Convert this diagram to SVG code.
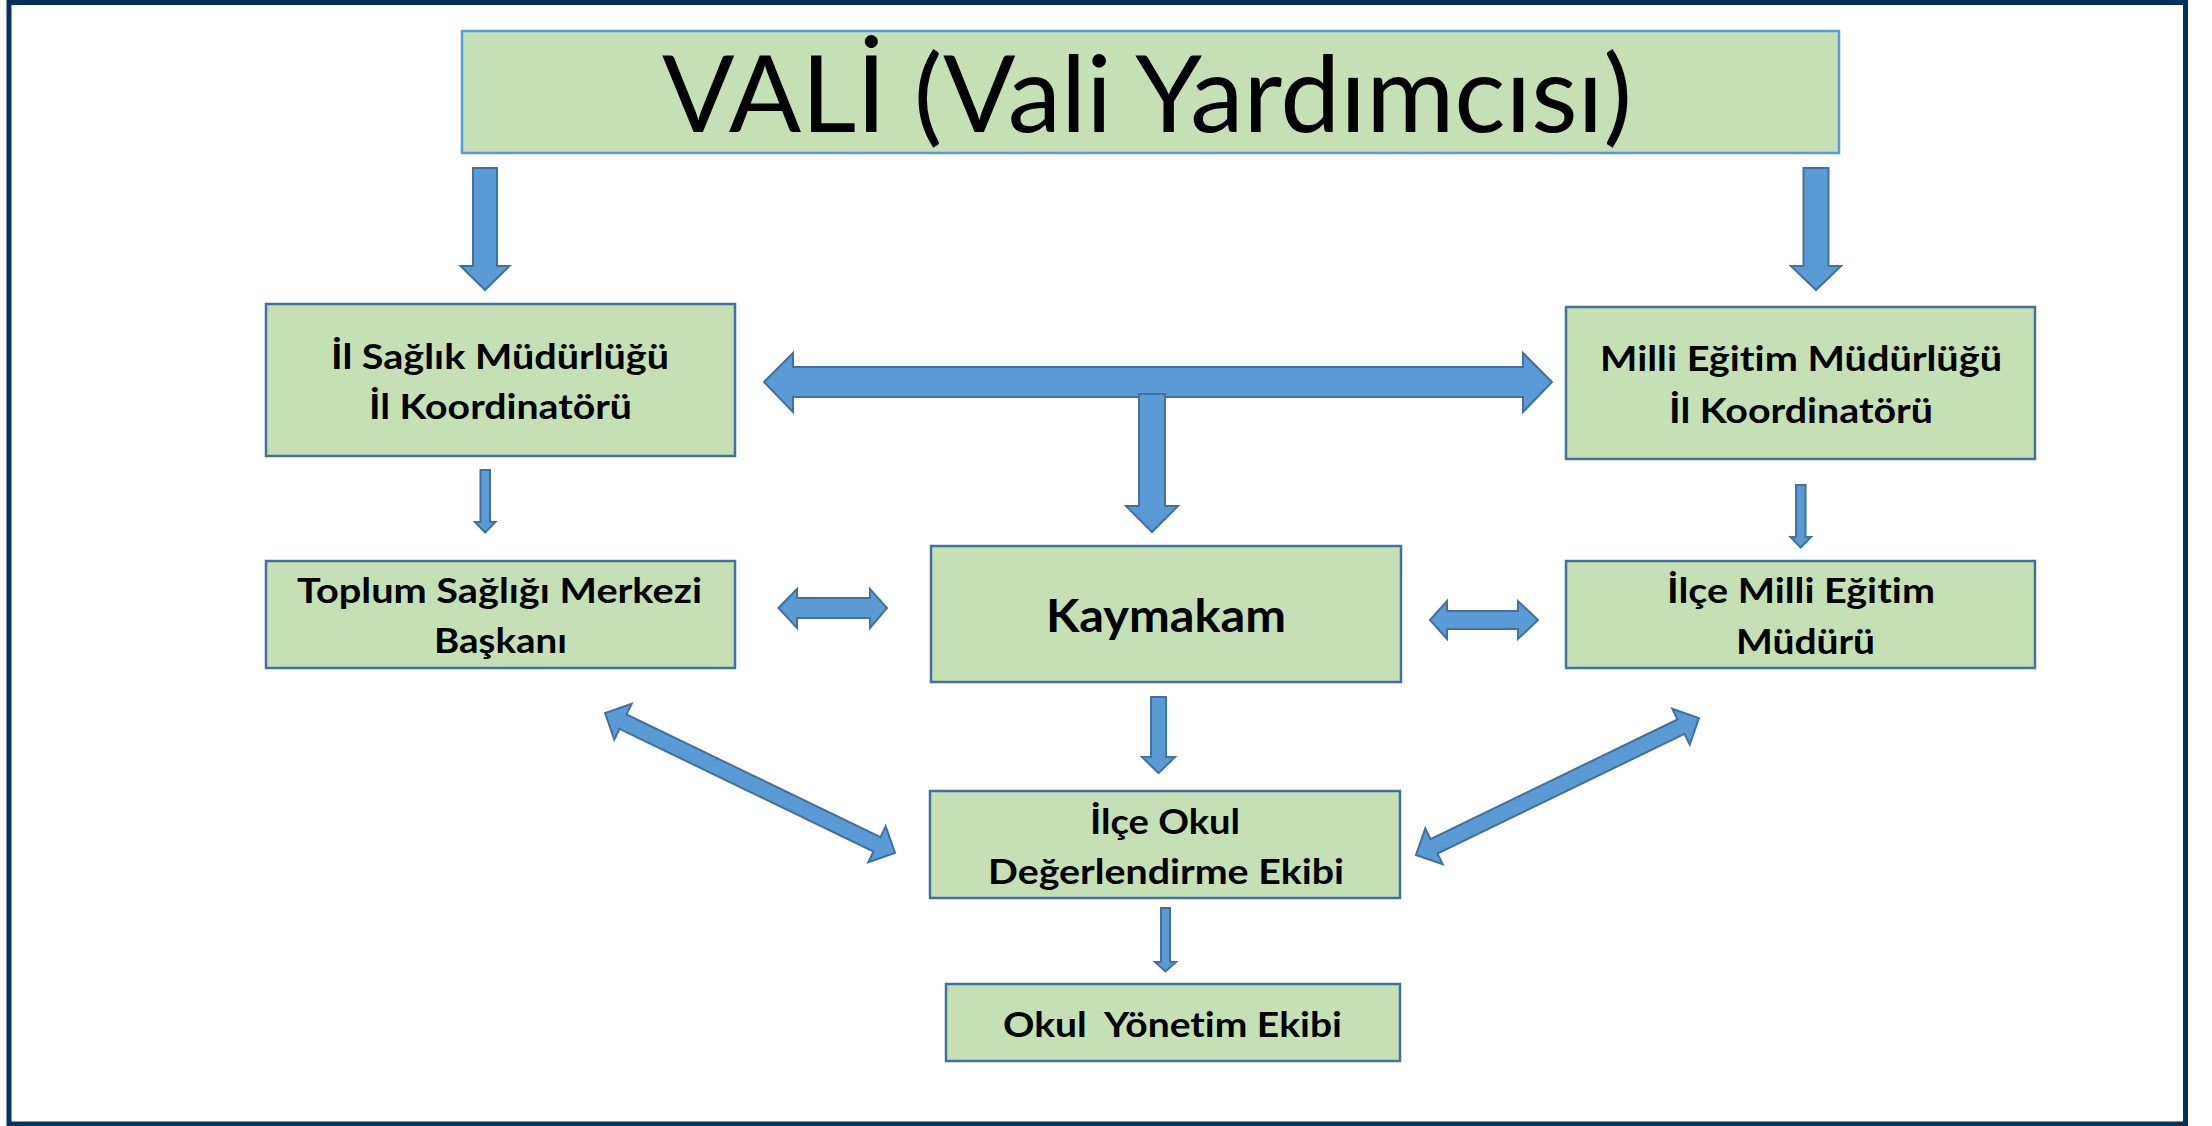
<svg xmlns="http://www.w3.org/2000/svg" width="2212" height="1126" viewBox="0 0 2212 1126">
<style>
.box{fill:#c5e0b4;stroke:#41719c;stroke-width:2.5}
.top{fill:#c5e0b4;stroke:#5b9bd5;stroke-width:2.5}
.arr{fill:#5b9bd5;stroke:#41719c;stroke-width:2;stroke-linejoin:miter}
.t{font-family:Lato,"Open Sans","Liberation Sans",sans-serif;font-weight:bold;font-size:35px;fill:#000;text-anchor:middle;font-variant-ligatures:none}
.big{font-family:Lato,"Open Sans","Liberation Sans",sans-serif;font-weight:normal;font-size:106px;fill:#000;text-anchor:middle;font-variant-ligatures:none}
</style>
<rect x="0" y="0" width="2212" height="1126" fill="#ffffff"/>
<rect x="9" y="2.5" width="2176.5" height="1121.5" fill="#ffffff" stroke="#03325f" stroke-width="5"/>

<g id="vali">
<rect class="top" x="462" y="31" width="1377" height="122"/>
<text class="big" x="1147" y="132" textLength="970" lengthAdjust="spacingAndGlyphs">VALİ (Vali Yardımcısı)</text>
</g>

<g id="il-saglik">
<rect class="box" x="266" y="304" width="469" height="152"/>
<text class="t" x="500" y="369" textLength="338" lengthAdjust="spacingAndGlyphs">İl Sağlık Müdürlüğü</text>
<text class="t" x="500.5" y="419" textLength="263" lengthAdjust="spacingAndGlyphs">İl Koordinatörü</text>
</g>

<g id="milli-egitim">
<rect class="box" x="1566" y="307" width="469" height="152"/>
<text class="t" x="1801" y="371" textLength="402" lengthAdjust="spacingAndGlyphs">Milli Eğitim Müdürlüğü</text>
<text class="t" x="1801" y="423" textLength="264" lengthAdjust="spacingAndGlyphs">İl Koordinatörü</text>
</g>

<g id="toplum-sagligi">
<rect class="box" x="266" y="561" width="469" height="107"/>
<text class="t" x="499.5" y="603" textLength="405" lengthAdjust="spacingAndGlyphs">Toplum Sağlığı Merkezi</text>
<text class="t" x="500.5" y="653" textLength="133" lengthAdjust="spacingAndGlyphs">Başkanı</text>
</g>

<g id="kaymakam">
<rect class="box" x="931" y="546" width="470" height="136"/>
<text class="t" x="1166" y="632" style="font-size:45px" textLength="240" lengthAdjust="spacingAndGlyphs">Kaymakam</text>
</g>

<g id="ilce-milli-egitim">
<rect class="box" x="1566" y="561" width="469" height="107"/>
<text class="t" x="1801" y="603" textLength="268" lengthAdjust="spacingAndGlyphs">İlçe Milli Eğitim</text>
<text class="t" x="1805.5" y="654" textLength="139" lengthAdjust="spacingAndGlyphs">Müdürü</text>
</g>

<g id="ilce-okul">
<rect class="box" x="930" y="791" width="470" height="107"/>
<text class="t" x="1165" y="834" textLength="150" lengthAdjust="spacingAndGlyphs">İlçe Okul</text>
<text class="t" x="1166" y="884" textLength="356" lengthAdjust="spacingAndGlyphs">Değerlendirme Ekibi</text>
</g>

<g id="okul-yonetim">
<rect class="box" x="946" y="984" width="454" height="77"/>
<text class="t" x="1172.5" y="1037" style="white-space:pre" textLength="339" lengthAdjust="spacingAndGlyphs">Okul  Yönetim Ekibi</text>
</g>

<g id="connectors">
<polygon class="arr" points="473,168 497,168 497,266 509.5,266 485,290 460.5,266 473,266"/>
<polygon class="arr" points="1803.5,168 1828.5,168 1828.5,266 1841,266 1816,290 1791,266 1803.5,266"/>
<polygon class="arr" points="764,382 793,353 793,367 1523,367 1523,353 1552,382 1523,412 1523,397 793,397 793,412"/>
<polygon class="arr" points="1139,394 1165,394 1165,506 1178,506 1152,532 1126,506 1139,506"/>
<polygon class="arr" points="480.5,470 490,470 490,522 495.5,522 485.2,532.5 475,522 480.5,522"/>
<polygon class="arr" points="1796,485 1805.5,485 1805.5,537 1811,537 1800.7,547.5 1790.5,537 1796,537"/>
<polygon class="arr" points="778.5,608 797,589 797,598 870,598 870,589 887,608 870,628 870,618 797,618 797,628"/>
<polygon class="arr" points="1430,620 1447,601 1447,611 1518,611 1518,601 1538,620 1518,639 1518,629 1447,629 1447,639"/>
<polygon class="arr" points="1151,697 1166,697 1166,757 1175,757 1158.5,773 1142,757 1151,757"/>
<polygon class="arr" points="1161,908 1170,908 1170,962 1176,962 1165.5,971.5 1155,962 1161,962"/>
<polygon class="arr" points="605,713 614.3,739.7 619.5,728.9 873.5,851.5 868.3,862.3 895,853 885.7,826.3 880.5,837.1 626.5,714.5 631.7,703.7"/>
<polygon class="arr" points="1416,855 1442.7,864.3 1437.5,853.5 1684.5,733.9 1689.7,744.7 1699,718 1672.3,708.7 1677.5,719.5 1430.5,839.1 1425.3,828.3"/>
</g>
</svg>
